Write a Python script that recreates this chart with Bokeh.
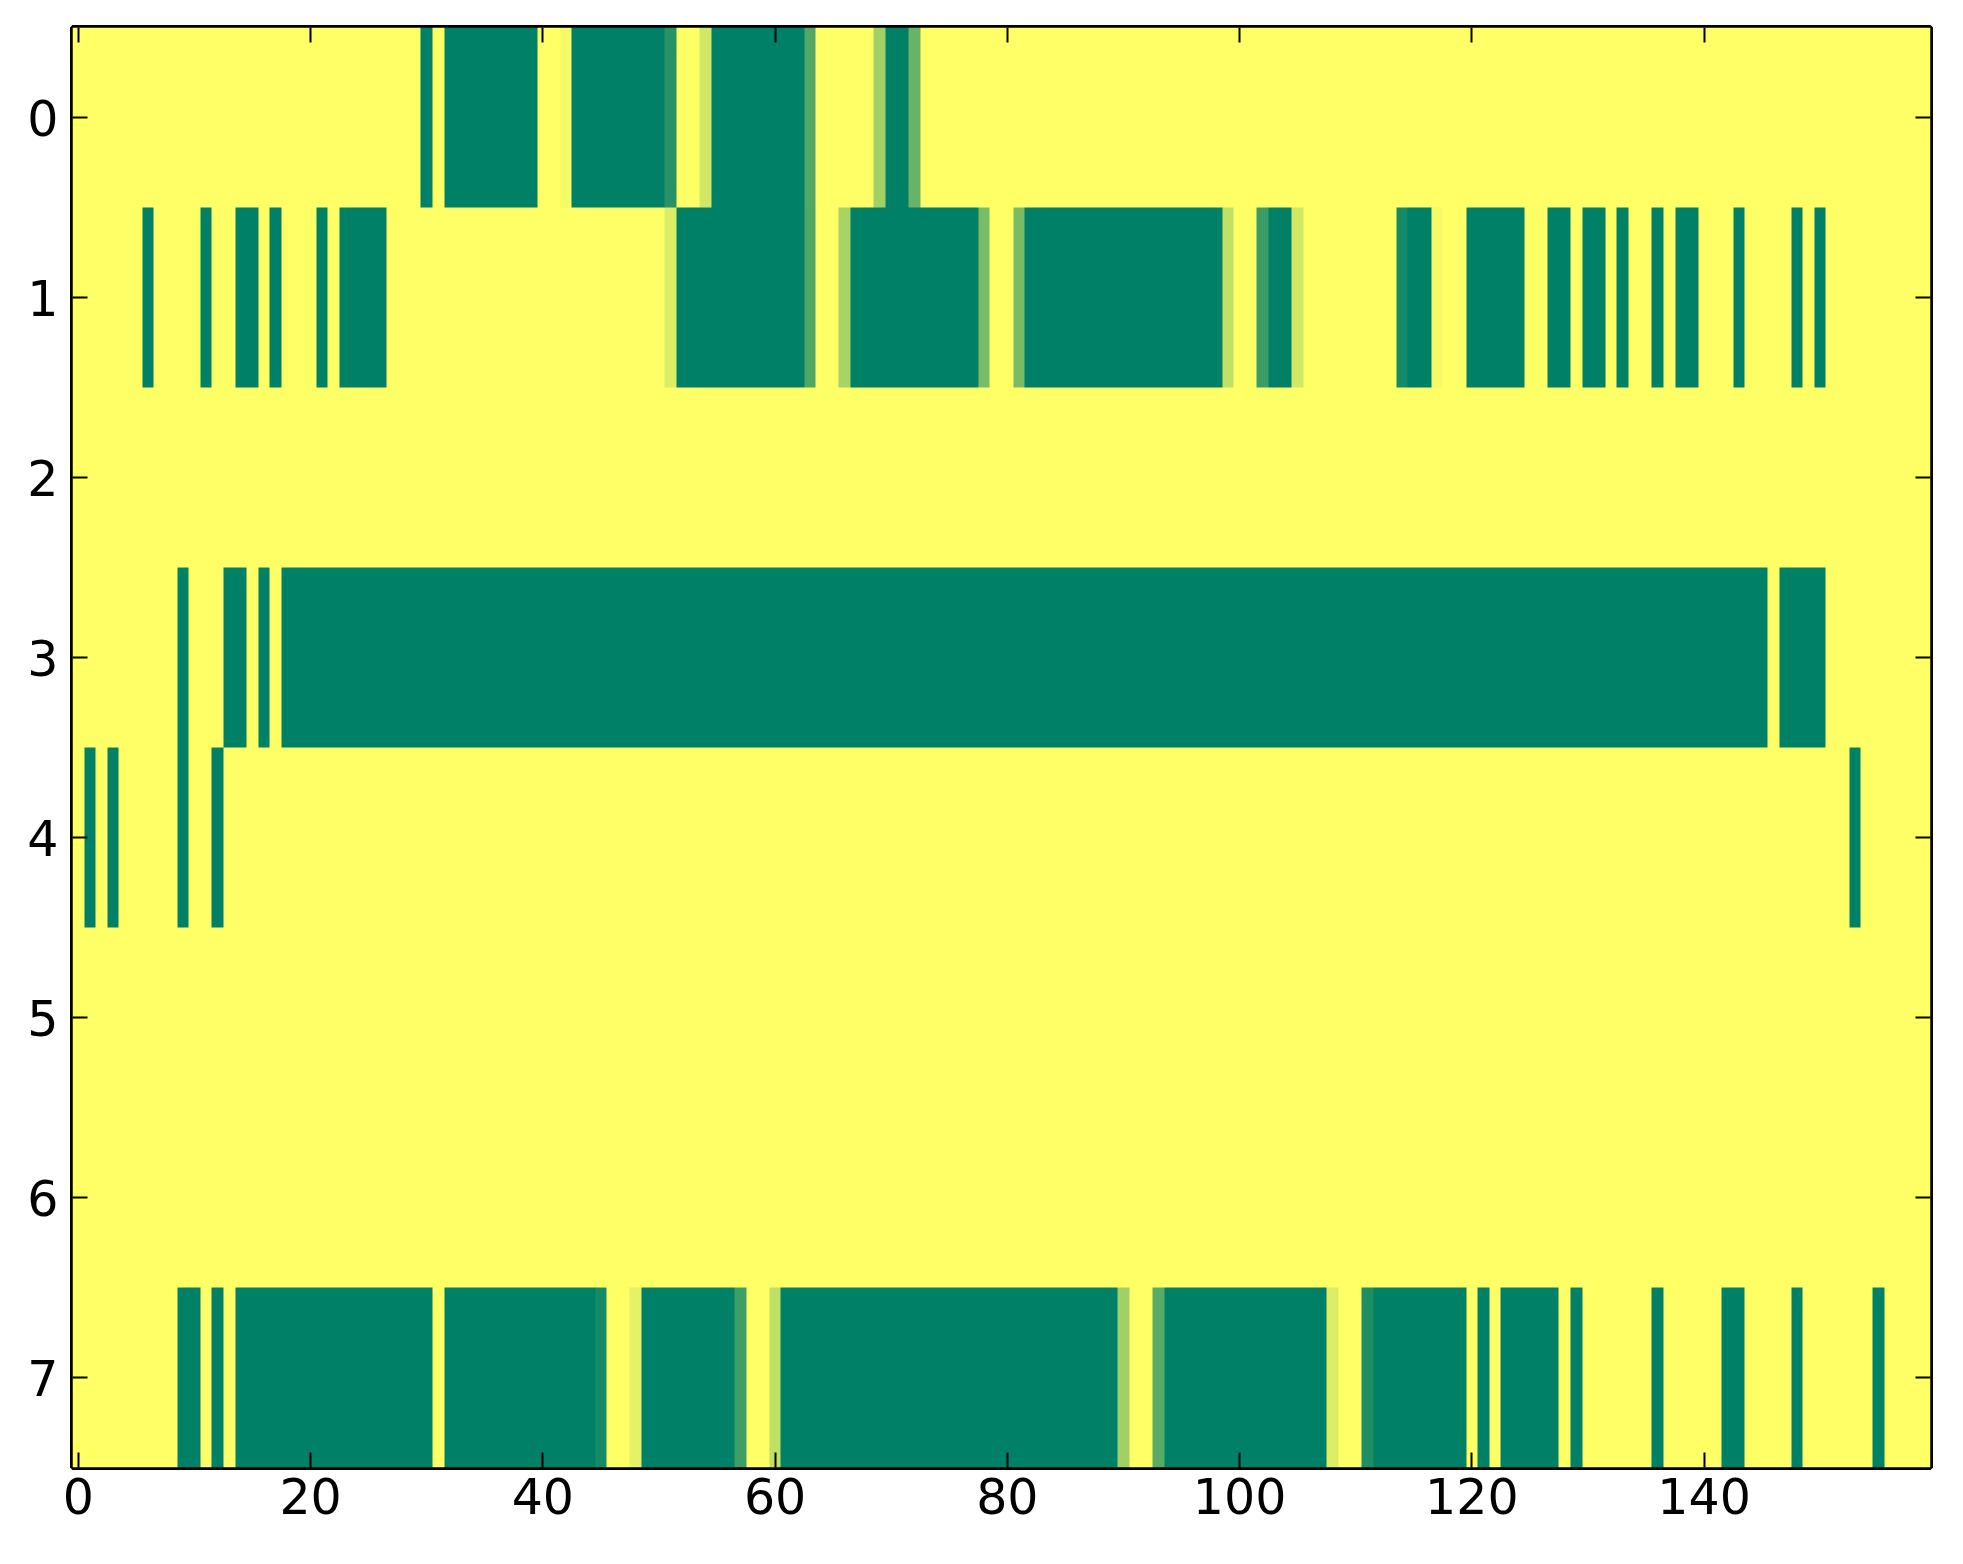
import numpy as np
from bokeh.plotting import figure
from bokeh.models import Range1d, LinearColorMapper, FixedTicker, LinearAxis, CustomJSTickFormatter
from bokeh.embed import file_html
from bokeh.resources import INLINE

# ---- data: 8 rows x 160 columns, values in [0, 1] (1 = yellow, 0 = green) ----
n_rows = 8
n_cols = 160

# runs of value 0 (inclusive column ranges) per row
row0_zero = [(30, 30), (32, 39), (43, 50), (55, 62), (70, 71)]
row0_part = {42: 0.96, 51: 0.15, 54: 0.82, 63: 0.32, 69: 0.63, 72: 0.41}

row1_zero = [(6, 6), (11, 11), (14, 15), (17, 17), (21, 21), (23, 26), (52, 62), (67, 77),
             (82, 98), (103, 104), (115, 116), (120, 124), (127, 128), (130, 131),
             (133, 133), (136, 136), (138, 139), (143, 143), (148, 148), (150, 150)]
row1_part = {51: 0.86, 63: 0.31, 66: 0.66, 78: 0.48, 81: 0.48, 99: 0.75, 102: 0.23,
             105: 0.82, 114: 0.08, 117: 0.96}

row2_zero = []
row2_part = {}

row3_zero = [(9, 9), (13, 14), (16, 16), (18, 145), (147, 150)]
row3_part = {}

row4_zero = [(1, 1), (3, 3), (9, 9), (12, 12), (153, 153)]
row4_part = {}

row5_zero = []
row5_part = {}

row6_zero = []
row6_part = {}

row7_zero = [(9, 10), (12, 12), (14, 30), (32, 44), (49, 56), (61, 89), (94, 107),
             (112, 119), (121, 121), (123, 127), (129, 129), (136, 136), (142, 143),
             (148, 148), (155, 155)]
row7_part = {45: 0.08, 48: 0.90, 57: 0.24, 60: 0.75, 90: 0.63, 93: 0.34, 108: 0.86, 111: 0.12}

x_ticks = [0, 20, 40, 60, 80, 100, 120, 140]
y_ticks = [0, 1, 2, 3, 4, 5, 6, 7]

rows_zero = [row0_zero, row1_zero, row2_zero, row3_zero, row4_zero, row5_zero, row6_zero, row7_zero]
rows_part = [row0_part, row1_part, row2_part, row3_part, row4_part, row5_part, row6_part, row7_part]

mat = np.ones((n_rows, n_cols))
for r in range(n_rows):
    for a, b in rows_zero[r]:
        mat[r, a:b + 1] = 0.0
    for c, v in rows_part[r].items():
        mat[r, c] = v

# matplotlib "summer" colormap: r = v, g = 0.5 + 0.5 v, b = 0.4
def _hex(v):
    r = int(round(255 * v))
    g = int(round(255 * (0.5 + 0.5 * v)))
    b = int(round(255 * 0.4))
    return "#%02x%02x%02x" % (r, g, b)

summer = [_hex(i / 255) for i in range(256)]
mapper = LinearColorMapper(palette=summer, low=0, high=1)

FONT = "DejaVu Sans"
FS = "49px"

p = figure(
    frame_width=1858, frame_height=1440,
    x_range=Range1d(-0.5, n_cols - 0.5),
    y_range=Range1d(n_rows - 0.5, -0.5),
    output_backend="svg", toolbar_location=None,
    min_border_left=72, min_border_right=10, min_border_top=27, min_border_bottom=73,
)
p.image(image=[mat], x=-0.5, y=-0.5, dw=n_cols, dh=n_rows, color_mapper=mapper)

p.grid.visible = False
p.outline_line_color = "black"
p.outline_line_width = 5
p.background_fill_color = "white"
p.border_fill_color = "white"

def style(ax, ticks, labels=True):
    ax.ticker = FixedTicker(ticks=ticks)
    ax.axis_line_color = None
    ax.major_tick_in = 15
    ax.major_tick_out = 0
    ax.major_tick_line_width = 2
    ax.major_tick_line_color = "black"
    ax.minor_tick_line_color = None
    ax.major_label_text_font = FONT
    ax.major_label_text_font_size = FS
    ax.major_label_text_color = "black"
    if not labels:
        ax.formatter = CustomJSTickFormatter(code="return ''")
        ax.major_label_text_font_size = "1px"

style(p.xaxis[0], x_ticks)
p.xaxis[0].major_label_standoff = 10
style(p.yaxis[0], y_ticks)
p.yaxis[0].major_label_standoff = 14

top = LinearAxis()
style(top, x_ticks, labels=False)
p.add_layout(top, "above")
right = LinearAxis()
style(right, y_ticks, labels=False)
p.add_layout(right, "right")

open("out.html", "w").write(file_html(p, INLINE))
